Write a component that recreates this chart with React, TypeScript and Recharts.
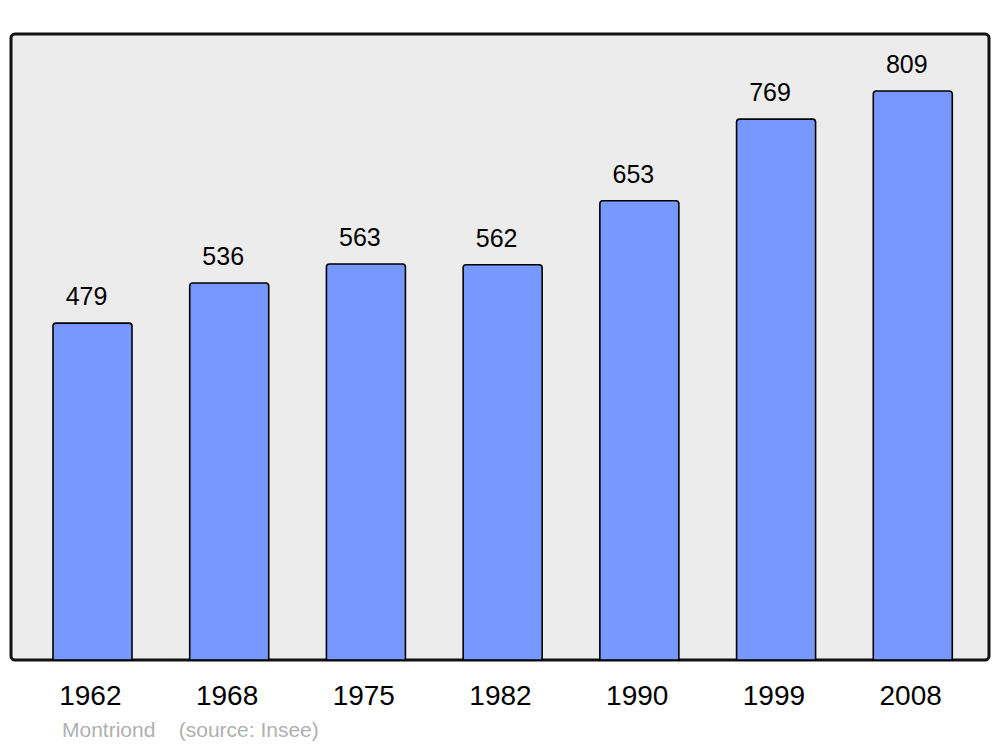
import { BarChart, Bar, XAxis, YAxis, CartesianGrid, LabelList, ReferenceArea } from "recharts";

// population by census year
const years = ["1962", "1968", "1975", "1982", "1990", "1999", "2008"];
const population = [479, 536, 563, 562, 653, 769, 809];

const data = years.map((year, i) => ({ year, population: population[i] }));

const FONT = "'Liberation Sans', Arial, sans-serif";
const PAD_L = 13;
const PAD_R = 8;

// rounded frame around the whole plot area (reference area excludes the axis padding)
const Frame = (props: any) => {
  const { x, y, width, height } = props;
  return (
    <rect
      x={x - PAD_L}
      y={y}
      width={width + PAD_L + PAD_R}
      height={height}
      rx={4}
      ry={4}
      fill="none"
      stroke="#111"
      strokeWidth={3}
    />
  );
};

export default function App() {
  return (
    <div style={{ position: "absolute", left: 0, top: 0, width: 1000, height: 747, background: "#fff", fontFamily: FONT }}>
      <BarChart
        width={1000}
        height={747}
        data={data}
        margin={{ top: 34, right: 11, bottom: 57, left: 11 }}
        barSize={79}
      >
        <CartesianGrid fill="#ececec" horizontal={false} vertical={false} />
        <XAxis
          dataKey="year"
          axisLine={false}
          tickLine={false}
          padding={{ left: PAD_L, right: PAD_R }}
          tickMargin={19}
          tick={{ fontSize: 28, fill: "#000", fontFamily: FONT, dx: -2 }}
          interval={0}
        />
        <YAxis hide domain={[0, 890]} width={0} />
        <Bar
          dataKey="population"
          fill="#7799ff"
          stroke="#000"
          strokeWidth={1.6}
          radius={[3, 3, 0, 0]}
          isAnimationActive={false}
        >
          <LabelList
            dataKey="population"
            position="top"
            offset={18}
            dx={-6}
            style={{ fontSize: 25, fill: "#000", fontFamily: FONT }}
          />
        </Bar>
        <ReferenceArea y1={0} y2={890} shape={<Frame />} ifOverflow="extendDomain" />
      </BarChart>
      <div style={{ position: "absolute", left: 62, top: 718, fontSize: 21, color: "#b0b0b0", whiteSpace: "pre" }}>
        {"Montriond    (source: Insee)"}
      </div>
    </div>
  );
}
